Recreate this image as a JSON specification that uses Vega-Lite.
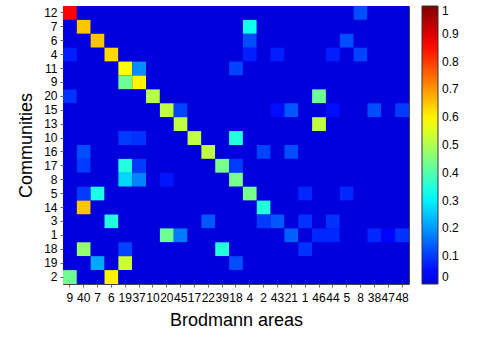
{
"$schema": "https://vega.github.io/schema/vega-lite/v6.json",
"autosize": {"type": "none"},
"padding": {"left": 63, "top": 6, "right": 76, "bottom": 57},
"width": 346,
"height": 278,
"background": "white",
"config": {
  "view": {"stroke": "#444", "strokeWidth": 1},
  "axis": {"labelFont": "Liberation Sans", "labelFontSize": 12, "labelColor": "#000", "titleFont": "Liberation Sans", "titleFontSize": 18, "titleFontWeight": "normal", "titleColor": "#000", "tickColor": "#666", "tickSize": 3, "domain": false, "grid": false},
  "legend": {"labelFont": "Liberation Sans", "labelFontSize": 12, "labelColor": "#000"}
},
"data": {"values": [
{"c":"12","a":"9","v":0.86},{"c":"12","a":"40","v":0},{"c":"12","a":"7","v":0},{"c":"12","a":"6","v":0},{"c":"12","a":"19","v":0},{"c":"12","a":"37","v":0},{"c":"12","a":"10","v":0},{"c":"12","a":"20","v":0},{"c":"12","a":"45","v":0},{"c":"12","a":"17","v":0},{"c":"12","a":"22","v":0},{"c":"12","a":"39","v":0},{"c":"12","a":"18","v":0},{"c":"12","a":"4","v":0},{"c":"12","a":"2","v":0},{"c":"12","a":"43","v":0},{"c":"12","a":"21","v":0},{"c":"12","a":"1","v":0},{"c":"12","a":"46","v":0},{"c":"12","a":"44","v":0},{"c":"12","a":"5","v":0},{"c":"12","a":"8","v":0.12},{"c":"12","a":"38","v":0},{"c":"12","a":"47","v":0},{"c":"12","a":"48","v":0},
{"c":"7","a":"9","v":0},{"c":"7","a":"40","v":0.65},{"c":"7","a":"7","v":0},{"c":"7","a":"6","v":0},{"c":"7","a":"19","v":0},{"c":"7","a":"37","v":0},{"c":"7","a":"10","v":0},{"c":"7","a":"20","v":0},{"c":"7","a":"45","v":0},{"c":"7","a":"17","v":0},{"c":"7","a":"22","v":0},{"c":"7","a":"39","v":0},{"c":"7","a":"18","v":0},{"c":"7","a":"4","v":0.33},{"c":"7","a":"2","v":0},{"c":"7","a":"43","v":0},{"c":"7","a":"21","v":0},{"c":"7","a":"1","v":0},{"c":"7","a":"46","v":0},{"c":"7","a":"44","v":0},{"c":"7","a":"5","v":0},{"c":"7","a":"8","v":0},{"c":"7","a":"38","v":0},{"c":"7","a":"47","v":0},{"c":"7","a":"48","v":0},
{"c":"6","a":"9","v":0},{"c":"6","a":"40","v":0},{"c":"6","a":"7","v":0.65},{"c":"6","a":"6","v":0},{"c":"6","a":"19","v":0},{"c":"6","a":"37","v":0},{"c":"6","a":"10","v":0},{"c":"6","a":"20","v":0},{"c":"6","a":"45","v":0},{"c":"6","a":"17","v":0},{"c":"6","a":"22","v":0},{"c":"6","a":"39","v":0},{"c":"6","a":"18","v":0},{"c":"6","a":"4","v":0.12},{"c":"6","a":"2","v":0},{"c":"6","a":"43","v":0},{"c":"6","a":"21","v":0},{"c":"6","a":"1","v":0},{"c":"6","a":"46","v":0},{"c":"6","a":"44","v":0},{"c":"6","a":"5","v":0.12},{"c":"6","a":"8","v":0},{"c":"6","a":"38","v":0},{"c":"6","a":"47","v":0},{"c":"6","a":"48","v":0},
{"c":"4","a":"9","v":0.07},{"c":"4","a":"40","v":0},{"c":"4","a":"7","v":0},{"c":"4","a":"6","v":0.63},{"c":"4","a":"19","v":0},{"c":"4","a":"37","v":0},{"c":"4","a":"10","v":0},{"c":"4","a":"20","v":0},{"c":"4","a":"45","v":0},{"c":"4","a":"17","v":0},{"c":"4","a":"22","v":0},{"c":"4","a":"39","v":0},{"c":"4","a":"18","v":0},{"c":"4","a":"4","v":0.07},{"c":"4","a":"2","v":0},{"c":"4","a":"43","v":0.07},{"c":"4","a":"21","v":0},{"c":"4","a":"1","v":0},{"c":"4","a":"46","v":0},{"c":"4","a":"44","v":0.07},{"c":"4","a":"5","v":0},{"c":"4","a":"8","v":0.11},{"c":"4","a":"38","v":0},{"c":"4","a":"47","v":0},{"c":"4","a":"48","v":0},
{"c":"11","a":"9","v":0},{"c":"11","a":"40","v":0},{"c":"11","a":"7","v":0},{"c":"11","a":"6","v":0},{"c":"11","a":"19","v":0.59},{"c":"11","a":"37","v":0.19},{"c":"11","a":"10","v":0},{"c":"11","a":"20","v":0},{"c":"11","a":"45","v":0},{"c":"11","a":"17","v":0},{"c":"11","a":"22","v":0},{"c":"11","a":"39","v":0},{"c":"11","a":"18","v":0.11},{"c":"11","a":"4","v":0},{"c":"11","a":"2","v":0},{"c":"11","a":"43","v":0},{"c":"11","a":"21","v":0},{"c":"11","a":"1","v":0},{"c":"11","a":"46","v":0},{"c":"11","a":"44","v":0},{"c":"11","a":"5","v":0},{"c":"11","a":"8","v":0},{"c":"11","a":"38","v":0},{"c":"11","a":"47","v":0},{"c":"11","a":"48","v":0},
{"c":"9","a":"9","v":0},{"c":"9","a":"40","v":0},{"c":"9","a":"7","v":0},{"c":"9","a":"6","v":0},{"c":"9","a":"19","v":0.43},{"c":"9","a":"37","v":0.6},{"c":"9","a":"10","v":0},{"c":"9","a":"20","v":0},{"c":"9","a":"45","v":0},{"c":"9","a":"17","v":0},{"c":"9","a":"22","v":0},{"c":"9","a":"39","v":0},{"c":"9","a":"18","v":0},{"c":"9","a":"4","v":0},{"c":"9","a":"2","v":0},{"c":"9","a":"43","v":0},{"c":"9","a":"21","v":0},{"c":"9","a":"1","v":0},{"c":"9","a":"46","v":0},{"c":"9","a":"44","v":0},{"c":"9","a":"5","v":0},{"c":"9","a":"8","v":0},{"c":"9","a":"38","v":0},{"c":"9","a":"47","v":0},{"c":"9","a":"48","v":0},
{"c":"20","a":"9","v":0.09},{"c":"20","a":"40","v":0},{"c":"20","a":"7","v":0},{"c":"20","a":"6","v":0},{"c":"20","a":"19","v":0},{"c":"20","a":"37","v":0},{"c":"20","a":"10","v":0.51},{"c":"20","a":"20","v":0},{"c":"20","a":"45","v":0},{"c":"20","a":"17","v":0},{"c":"20","a":"22","v":0},{"c":"20","a":"39","v":0},{"c":"20","a":"18","v":0},{"c":"20","a":"4","v":0},{"c":"20","a":"2","v":0},{"c":"20","a":"43","v":0},{"c":"20","a":"21","v":0},{"c":"20","a":"1","v":0},{"c":"20","a":"46","v":0.43},{"c":"20","a":"44","v":0},{"c":"20","a":"5","v":0},{"c":"20","a":"8","v":0},{"c":"20","a":"38","v":0},{"c":"20","a":"47","v":0},{"c":"20","a":"48","v":0},
{"c":"15","a":"9","v":0},{"c":"15","a":"40","v":0},{"c":"15","a":"7","v":0},{"c":"15","a":"6","v":0},{"c":"15","a":"19","v":0},{"c":"15","a":"37","v":0},{"c":"15","a":"10","v":0},{"c":"15","a":"20","v":0.52},{"c":"15","a":"45","v":0.11},{"c":"15","a":"17","v":0},{"c":"15","a":"22","v":0},{"c":"15","a":"39","v":0},{"c":"15","a":"18","v":0},{"c":"15","a":"4","v":0},{"c":"15","a":"2","v":0},{"c":"15","a":"43","v":0.05},{"c":"15","a":"21","v":0.13},{"c":"15","a":"1","v":0},{"c":"15","a":"46","v":0},{"c":"15","a":"44","v":0.05},{"c":"15","a":"5","v":0},{"c":"15","a":"8","v":0},{"c":"15","a":"38","v":0.12},{"c":"15","a":"47","v":0},{"c":"15","a":"48","v":0.1},
{"c":"13","a":"9","v":0},{"c":"13","a":"40","v":0},{"c":"13","a":"7","v":0},{"c":"13","a":"6","v":0},{"c":"13","a":"19","v":0},{"c":"13","a":"37","v":0},{"c":"13","a":"10","v":0},{"c":"13","a":"20","v":0},{"c":"13","a":"45","v":0.52},{"c":"13","a":"17","v":0},{"c":"13","a":"22","v":0},{"c":"13","a":"39","v":0},{"c":"13","a":"18","v":0},{"c":"13","a":"4","v":0},{"c":"13","a":"2","v":0},{"c":"13","a":"43","v":0},{"c":"13","a":"21","v":0},{"c":"13","a":"1","v":0},{"c":"13","a":"46","v":0.52},{"c":"13","a":"44","v":0},{"c":"13","a":"5","v":0},{"c":"13","a":"8","v":0},{"c":"13","a":"38","v":0},{"c":"13","a":"47","v":0},{"c":"13","a":"48","v":0},
{"c":"10","a":"9","v":0},{"c":"10","a":"40","v":0},{"c":"10","a":"7","v":0},{"c":"10","a":"6","v":0},{"c":"10","a":"19","v":0.1},{"c":"10","a":"37","v":0.09},{"c":"10","a":"10","v":0},{"c":"10","a":"20","v":0},{"c":"10","a":"45","v":0},{"c":"10","a":"17","v":0.52},{"c":"10","a":"22","v":0},{"c":"10","a":"39","v":0},{"c":"10","a":"18","v":0.35},{"c":"10","a":"4","v":0},{"c":"10","a":"2","v":0},{"c":"10","a":"43","v":0},{"c":"10","a":"21","v":0},{"c":"10","a":"1","v":0},{"c":"10","a":"46","v":0},{"c":"10","a":"44","v":0},{"c":"10","a":"5","v":0},{"c":"10","a":"8","v":0},{"c":"10","a":"38","v":0},{"c":"10","a":"47","v":0},{"c":"10","a":"48","v":0},
{"c":"16","a":"9","v":0},{"c":"16","a":"40","v":0.12},{"c":"16","a":"7","v":0},{"c":"16","a":"6","v":0},{"c":"16","a":"19","v":0},{"c":"16","a":"37","v":0},{"c":"16","a":"10","v":0},{"c":"16","a":"20","v":0},{"c":"16","a":"45","v":0},{"c":"16","a":"17","v":0},{"c":"16","a":"22","v":0.52},{"c":"16","a":"39","v":0},{"c":"16","a":"18","v":0},{"c":"16","a":"4","v":0},{"c":"16","a":"2","v":0.11},{"c":"16","a":"43","v":0},{"c":"16","a":"21","v":0.12},{"c":"16","a":"1","v":0},{"c":"16","a":"46","v":0},{"c":"16","a":"44","v":0},{"c":"16","a":"5","v":0},{"c":"16","a":"8","v":0},{"c":"16","a":"38","v":0},{"c":"16","a":"47","v":0},{"c":"16","a":"48","v":0},
{"c":"17","a":"9","v":0},{"c":"17","a":"40","v":0.1},{"c":"17","a":"7","v":0},{"c":"17","a":"6","v":0},{"c":"17","a":"19","v":0.35},{"c":"17","a":"37","v":0.1},{"c":"17","a":"10","v":0},{"c":"17","a":"20","v":0},{"c":"17","a":"45","v":0},{"c":"17","a":"17","v":0},{"c":"17","a":"22","v":0},{"c":"17","a":"39","v":0.44},{"c":"17","a":"18","v":0.1},{"c":"17","a":"4","v":0},{"c":"17","a":"2","v":0},{"c":"17","a":"43","v":0},{"c":"17","a":"21","v":0},{"c":"17","a":"1","v":0},{"c":"17","a":"46","v":0},{"c":"17","a":"44","v":0},{"c":"17","a":"5","v":0},{"c":"17","a":"8","v":0},{"c":"17","a":"38","v":0},{"c":"17","a":"47","v":0},{"c":"17","a":"48","v":0},
{"c":"8","a":"9","v":0},{"c":"8","a":"40","v":0},{"c":"8","a":"7","v":0},{"c":"8","a":"6","v":0},{"c":"8","a":"19","v":0.27},{"c":"8","a":"37","v":0.18},{"c":"8","a":"10","v":0},{"c":"8","a":"20","v":0.06},{"c":"8","a":"45","v":0},{"c":"8","a":"17","v":0},{"c":"8","a":"22","v":0},{"c":"8","a":"39","v":0},{"c":"8","a":"18","v":0.44},{"c":"8","a":"4","v":0},{"c":"8","a":"2","v":0},{"c":"8","a":"43","v":0},{"c":"8","a":"21","v":0},{"c":"8","a":"1","v":0},{"c":"8","a":"46","v":0},{"c":"8","a":"44","v":0},{"c":"8","a":"5","v":0},{"c":"8","a":"8","v":0},{"c":"8","a":"38","v":0},{"c":"8","a":"47","v":0},{"c":"8","a":"48","v":0},
{"c":"5","a":"9","v":0},{"c":"5","a":"40","v":0.1},{"c":"5","a":"7","v":0.34},{"c":"5","a":"6","v":0},{"c":"5","a":"19","v":0},{"c":"5","a":"37","v":0},{"c":"5","a":"10","v":0},{"c":"5","a":"20","v":0},{"c":"5","a":"45","v":0},{"c":"5","a":"17","v":0},{"c":"5","a":"22","v":0},{"c":"5","a":"39","v":0},{"c":"5","a":"18","v":0},{"c":"5","a":"4","v":0.44},{"c":"5","a":"2","v":0},{"c":"5","a":"43","v":0},{"c":"5","a":"21","v":0},{"c":"5","a":"1","v":0.08},{"c":"5","a":"46","v":0},{"c":"5","a":"44","v":0},{"c":"5","a":"5","v":0.08},{"c":"5","a":"8","v":0},{"c":"5","a":"38","v":0},{"c":"5","a":"47","v":0},{"c":"5","a":"48","v":0},
{"c":"14","a":"9","v":0},{"c":"14","a":"40","v":0.65},{"c":"14","a":"7","v":0},{"c":"14","a":"6","v":0},{"c":"14","a":"19","v":0},{"c":"14","a":"37","v":0},{"c":"14","a":"10","v":0},{"c":"14","a":"20","v":0},{"c":"14","a":"45","v":0},{"c":"14","a":"17","v":0},{"c":"14","a":"22","v":0},{"c":"14","a":"39","v":0},{"c":"14","a":"18","v":0},{"c":"14","a":"4","v":0},{"c":"14","a":"2","v":0.35},{"c":"14","a":"43","v":0},{"c":"14","a":"21","v":0},{"c":"14","a":"1","v":0},{"c":"14","a":"46","v":0},{"c":"14","a":"44","v":0},{"c":"14","a":"5","v":0},{"c":"14","a":"8","v":0},{"c":"14","a":"38","v":0},{"c":"14","a":"47","v":0},{"c":"14","a":"48","v":0},
{"c":"3","a":"9","v":0},{"c":"3","a":"40","v":0},{"c":"3","a":"7","v":0},{"c":"3","a":"6","v":0.35},{"c":"3","a":"19","v":0},{"c":"3","a":"37","v":0},{"c":"3","a":"10","v":0},{"c":"3","a":"20","v":0},{"c":"3","a":"45","v":0},{"c":"3","a":"17","v":0},{"c":"3","a":"22","v":0.13},{"c":"3","a":"39","v":0},{"c":"3","a":"18","v":0},{"c":"3","a":"4","v":0},{"c":"3","a":"2","v":0.1},{"c":"3","a":"43","v":0.13},{"c":"3","a":"21","v":0},{"c":"3","a":"1","v":0.09},{"c":"3","a":"46","v":0},{"c":"3","a":"44","v":0.09},{"c":"3","a":"5","v":0},{"c":"3","a":"8","v":0},{"c":"3","a":"38","v":0},{"c":"3","a":"47","v":0},{"c":"3","a":"48","v":0},
{"c":"1","a":"9","v":0},{"c":"1","a":"40","v":0},{"c":"1","a":"7","v":0},{"c":"1","a":"6","v":0},{"c":"1","a":"19","v":0},{"c":"1","a":"37","v":0},{"c":"1","a":"10","v":0},{"c":"1","a":"20","v":0.43},{"c":"1","a":"45","v":0.17},{"c":"1","a":"17","v":0},{"c":"1","a":"22","v":0},{"c":"1","a":"39","v":0},{"c":"1","a":"18","v":0},{"c":"1","a":"4","v":0},{"c":"1","a":"2","v":0},{"c":"1","a":"43","v":0},{"c":"1","a":"21","v":0.14},{"c":"1","a":"1","v":0},{"c":"1","a":"46","v":0.08},{"c":"1","a":"44","v":0.08},{"c":"1","a":"5","v":0},{"c":"1","a":"8","v":0},{"c":"1","a":"38","v":0.08},{"c":"1","a":"47","v":0.04},{"c":"1","a":"48","v":0.09},
{"c":"18","a":"9","v":0},{"c":"18","a":"40","v":0.47},{"c":"18","a":"7","v":0},{"c":"18","a":"6","v":0},{"c":"18","a":"19","v":0.11},{"c":"18","a":"37","v":0},{"c":"18","a":"10","v":0},{"c":"18","a":"20","v":0},{"c":"18","a":"45","v":0},{"c":"18","a":"17","v":0},{"c":"18","a":"22","v":0},{"c":"18","a":"39","v":0.35},{"c":"18","a":"18","v":0},{"c":"18","a":"4","v":0},{"c":"18","a":"2","v":0},{"c":"18","a":"43","v":0},{"c":"18","a":"21","v":0},{"c":"18","a":"1","v":0.09},{"c":"18","a":"46","v":0},{"c":"18","a":"44","v":0},{"c":"18","a":"5","v":0},{"c":"18","a":"8","v":0},{"c":"18","a":"38","v":0},{"c":"18","a":"47","v":0},{"c":"18","a":"48","v":0},
{"c":"19","a":"9","v":0},{"c":"19","a":"40","v":0},{"c":"19","a":"7","v":0.22},{"c":"19","a":"6","v":0},{"c":"19","a":"19","v":0.53},{"c":"19","a":"37","v":0},{"c":"19","a":"10","v":0},{"c":"19","a":"20","v":0},{"c":"19","a":"45","v":0},{"c":"19","a":"17","v":0},{"c":"19","a":"22","v":0},{"c":"19","a":"39","v":0},{"c":"19","a":"18","v":0.12},{"c":"19","a":"4","v":0},{"c":"19","a":"2","v":0},{"c":"19","a":"43","v":0},{"c":"19","a":"21","v":0},{"c":"19","a":"1","v":0},{"c":"19","a":"46","v":0},{"c":"19","a":"44","v":0},{"c":"19","a":"5","v":0},{"c":"19","a":"8","v":0},{"c":"19","a":"38","v":0},{"c":"19","a":"47","v":0},{"c":"19","a":"48","v":0},
{"c":"2","a":"9","v":0.43},{"c":"2","a":"40","v":0},{"c":"2","a":"7","v":0},{"c":"2","a":"6","v":0.6},{"c":"2","a":"19","v":0},{"c":"2","a":"37","v":0},{"c":"2","a":"10","v":0},{"c":"2","a":"20","v":0},{"c":"2","a":"45","v":0},{"c":"2","a":"17","v":0},{"c":"2","a":"22","v":0},{"c":"2","a":"39","v":0},{"c":"2","a":"18","v":0},{"c":"2","a":"4","v":0},{"c":"2","a":"2","v":0},{"c":"2","a":"43","v":0},{"c":"2","a":"21","v":0},{"c":"2","a":"1","v":0},{"c":"2","a":"46","v":0},{"c":"2","a":"44","v":0},{"c":"2","a":"5","v":0},{"c":"2","a":"8","v":0},{"c":"2","a":"38","v":0},{"c":"2","a":"47","v":0},{"c":"2","a":"48","v":0}
]},
"layer": [
  {
    "data": {"values": [{"bg": "plot"}]},
    "mark": {"type": "rect", "fill": "#0000dc"},
    "encoding": {}
  },
  {
    "mark": {"type": "rect", "stroke": null, "strokeWidth": 0},
    "encoding": {
      "x": {"field": "a", "type": "nominal", "sort": ["9","40","7","6","19","37","10","20","45","17","22","39","18","4","2","43","21","1","46","44","5","8","38","47","48"], "scale": {"paddingInner": 0, "paddingOuter": 0}, "axis": {"orient": "bottom", "title": "Brodmann areas", "labelAngle": 0, "labelOverlap": false, "labelBound": false, "labelPadding": 5, "titlePadding": 8}},
      "y": {"field": "c", "type": "nominal", "sort": ["12","7","6","4","11","9","20","15","13","10","16","17","8","5","14","3","1","18","19","2"], "scale": {"paddingInner": 0, "paddingOuter": 0}, "axis": {"orient": "left", "title": "Communities", "labelPadding": 3, "titlePadding": 8}},
      "fill": {"field": "v", "type": "quantitative", "scale": {"domain": [0, 0.0375, 0.3125, 0.5875, 0.8625, 1], "range": ["#0000dc", "#0000ff", "#00ffff", "#ffff00", "#ff0000", "#800000"], "interpolate": "rgb"}, "legend": {"type": "gradient", "orient": "none", "legendX": 359, "legendY": 0, "direction": "vertical", "gradientLength": 278, "gradientThickness": 16, "gradientStrokeColor": "#333", "gradientStrokeWidth": 1, "values": [0, 0.1, 0.2, 0.3, 0.4, 0.5, 0.6, 0.7, 0.8, 0.9, 1], "format": "~g", "labelOffset": 4, "labelOverlap": false, "title": null}}
    }
  }
]
}
